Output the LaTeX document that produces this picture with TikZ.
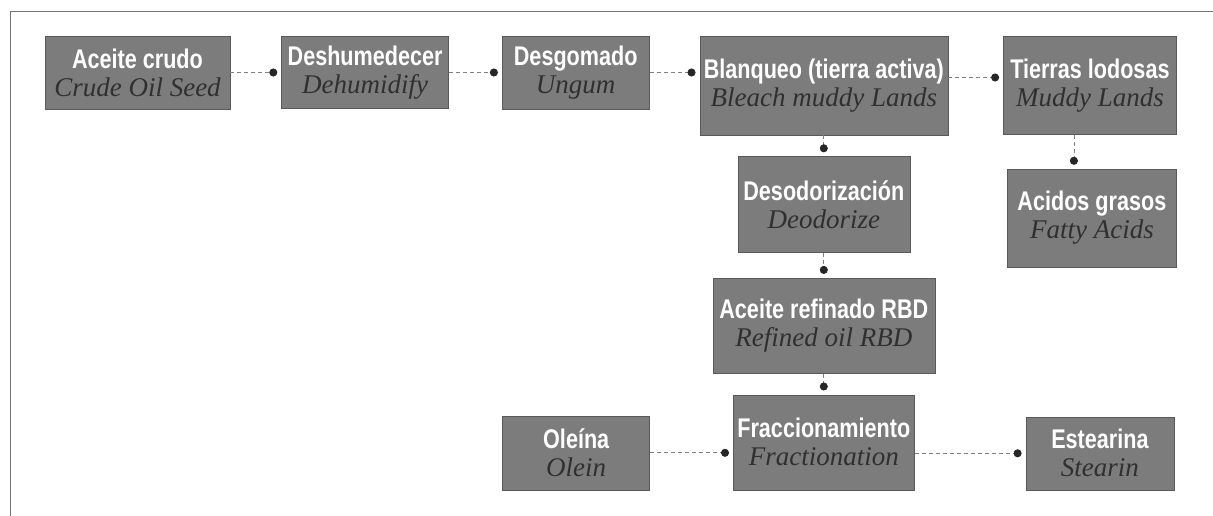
\documentclass[tikz,border=0pt]{standalone}
\usepackage{fontspec}
\setmainfont{Liberation Serif}
\newfontfamily\headfont{Liberation Sans}[FakeStretch=0.8]
\usetikzlibrary{arrows.meta,positioning}
\definecolor{boxgray}{RGB}{124,124,124}
\definecolor{engray}{RGB}{48,48,48}
\def\stage#1#2{{\headfont\bfseries\color{white}#1}\\{\itshape\color{engray}#2}}

\begin{document}
\begin{tikzpicture}[x=1pt,y=-1pt,
                    stage box/.style={rectangle,fill=boxgray,draw=black!65,line width=0.6pt,inner sep=0pt,
                                      align=center,font=\fontsize{27}{28}\selectfont},
                    link/.style={-{Circle[length=8pt,color=black!85]},dashed,dash pattern=on 4pt off 3pt,
                                 draw=black!50,line width=0.8pt,shorten >=4pt}]
  \useasboundingbox (0,0) rectangle (1213,516);
  \draw[black!55,line width=1pt] (10,516) |- (1213,12);

  % top row
  \node[stage box,minimum width=185pt,minimum height=73pt] (crudo) at (137.5,72.5) {\stage{Aceite crudo}{Crude Oil Seed}};
  \node[stage box,minimum width=167pt,minimum height=72pt] (deshum) [right=51pt of crudo] {\stage{Deshumedecer}{Dehumidify}};
  \node[stage box,minimum width=147pt,minimum height=73pt] (desgom) [right=53pt of deshum] {\stage{Desgomado}{Ungum}};
  \node[stage box,minimum width=248pt,minimum height=99pt] (blanq) [right=50pt of desgom.north east,anchor=north west] {\stage{Blanqueo (tierra activa)}{Bleach muddy Lands}};
  \node[stage box,minimum width=173pt,minimum height=98pt] (tierras) [right=55pt of blanq] {\stage{Tierras lodosas}{Muddy Lands}};
  \node[stage box,minimum width=169pt,minimum height=98pt] (acidos) [below=34pt of tierras.south east,anchor=north east] {\stage{Acidos grasos}{Fatty Acids}};

  % refining column
  \node[stage box,minimum width=172pt,minimum height=96pt] (desod) [below=21pt of blanq] {\stage{Desodorización}{Deodorize}};
  \node[stage box,minimum width=222pt,minimum height=95pt] (refin) [below=25pt of desod] {\stage{Aceite refinado RBD}{Refined oil RBD}};
  \node[stage box,minimum width=181pt,minimum height=95pt] (fracc) [below=21pt of refin] {\stage{Fraccionamiento}{Fractionation}};
  \node[stage box,minimum width=147pt,minimum height=74pt] (oleina) [left=83pt of fracc.south west,anchor=south east] {\stage{Oleína}{Olein}};
  \node[stage box,minimum width=148pt,minimum height=73pt] (estear) [right=111pt of fracc.south east,anchor=south west] {\stage{Estearina}{Stearin}};

  \draw[link] (crudo) -- (deshum);
  \draw[link] (deshum) -- (desgom);
  \draw[link] (desgom.east) -- (desgom.east -| blanq.west);
  \draw[link] ([yshift=8pt]blanq.east) -- ([yshift=8pt]tierras.west);
  \draw[link] ([xshift=-16pt]tierras.south) -- ([xshift=-16pt]tierras.south |- acidos.north);
  \draw[link] (blanq) -- (desod);
  \draw[link] (desod) -- (refin);
  \draw[link] (refin) -- (fracc);
  \draw[link] (oleina.east) -- (oleina.east -| fracc.west);
  \draw[link] (fracc.east |- estear.west) -- (estear.west);
\end{tikzpicture}
\end{document}
